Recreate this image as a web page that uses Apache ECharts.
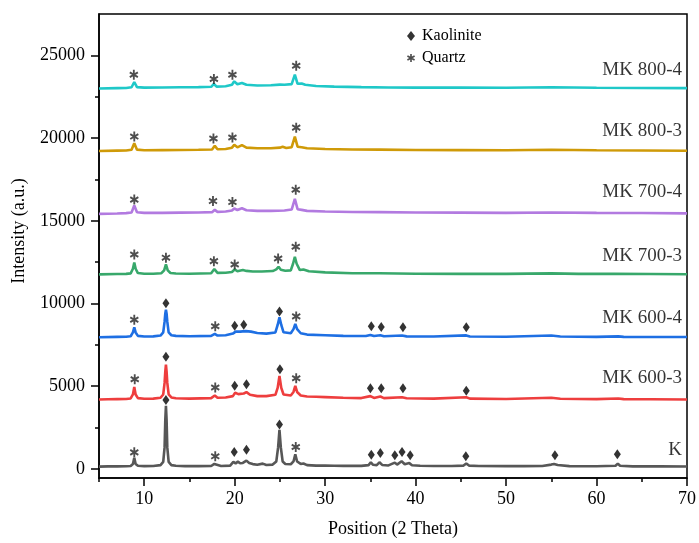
<!DOCTYPE html>
<html>
<head>
<meta charset="utf-8">
<script src="https://cdn.jsdelivr.net/npm/echarts@6/dist/echarts.min.js"></script>
<style>
  html, body { margin: 0; padding: 0; background: #fff; }
  #chart { width: 699px; height: 543px; }
</style>
</head>
<body>
<div id="chart"></div>
<script>
// XRD patterns: raw kaolin (K) and metakaolins calcined at 600/700/800 °C.
// Each pattern is a list of [2θ, intensity] points, already stacked vertically.

const patternK = [
  [5,140],[6,150],[7,150],[8,160],[8.5,180],[8.75,300],[8.9,680],[9.05,300],[9.3,190],[10,170],
  [11,175],[11.8,230],[12.1,420],[12.25,1300],[12.33,3000],[12.4,3820],[12.47,3000],[12.55,1300],
  [12.7,420],[13.0,230],[13.5,190],[14.5,170],[16,165],[17.4,175],[17.75,300],[17.9,200],[18.5,175],
  [19.5,200],[19.85,420],[20.1,330],[20.35,440],[20.6,340],[20.9,360],[21.3,500],[21.6,360],[22,290],
  [22.5,250],[23.1,320],[23.5,240],[24.2,260],[24.6,450],[24.8,1300],[24.95,2360],[25.1,1300],
  [25.3,450],[25.6,300],[26.2,280],[26.5,450],[26.7,880],[26.9,450],[27.3,300],[27.6,330],[28,230],
  [29,200],[30,210],[31,190],[32,180],[33,190],[34,185],[34.8,230],[35.05,400],[35.3,250],[35.7,230],
  [36.0,400],[36.3,240],[37,210],[37.7,380],[37.95,260],[38.45,460],[38.8,280],[39.3,350],[39.6,220],
  [40.5,190],[42,175],[44,175],[45.3,200],[45.6,330],[45.9,200],[47,175],[50,170],[52,165],[54,175],
  [55.0,260],[55.3,300],[55.7,240],[57,170],[60,160],[62.1,190],[62.35,320],[62.6,190],[64,155],
  [67,150],[70,145]
];

const patternMK600_3 = [
  [5,4200],[6,4210],[7,4220],[8,4230],[8.5,4260],[8.75,4500],[8.9,4960],[9.05,4500],[9.3,4280],
  [10,4240],[11,4250],[11.8,4300],[12.1,4500],[12.25,5200],[12.33,5900],[12.4,6300],[12.47,5900],
  [12.55,5200],[12.7,4500],[13,4320],[13.5,4270],[15,4250],[17.4,4280],[17.8,4440],[18.1,4300],
  [19,4320],[19.8,4400],[20.05,4600],[20.4,4520],[21.0,4560],[21.3,4640],[21.7,4480],[22.5,4400],
  [23.5,4400],[24.5,4480],[24.75,4900],[24.95,5620],[25.15,4900],[25.4,4500],[26.2,4440],[26.5,4650],
  [26.7,5020],[26.9,4650],[27.3,4440],[28,4380],[29,4360],[30,4340],[32,4300],[34,4280],[35.0,4400],
  [35.4,4290],[36.1,4380],[36.5,4280],[38.5,4330],[39,4270],[42,4250],[45.6,4330],[46,4250],
  [50,4230],[55,4300],[56,4240],[60,4220],[62.4,4260],[63,4220],[66,4210],[70,4200]
];

const patternMK600_4 = [
  [5,7960],[7,7980],[8,7990],[8.5,8020],[8.75,8250],[8.9,8560],[9.05,8250],[9.3,8040],[10,8000],
  [11,8010],[11.8,8060],[12.1,8250],[12.25,8900],[12.33,9400],[12.4,9620],[12.47,9400],[12.55,8900],
  [12.7,8250],[13,8080],[13.5,8040],[15,8020],[17.4,8040],[17.8,8160],[18.1,8060],[19,8080],
  [19.8,8180],[20.1,8300],[20.6,8300],[21.2,8330],[21.8,8300],[22.5,8220],[23.5,8180],[24.5,8250],
  [24.75,8700],[24.95,9160],[25.15,8700],[25.4,8260],[26.2,8200],[26.5,8450],[26.7,8760],[26.9,8450],
  [27.3,8200],[28,8120],[30,8080],[32,8040],[34.5,8030],[35.0,8100],[35.4,8030],[36.1,8080],
  [36.5,8020],[38.5,8060],[39,8010],[42,8000],[45.6,8070],[46,8000],[50,7990],[55,8060],[56,8000],
  [60,7980],[62.4,8010],[63,7980],[70,7970]
];

const patternMK700_3 = [
  [5,11760],[7,11780],[8,11790],[8.5,11820],[8.75,12100],[8.9,12480],[9.05,12100],[9.3,11840],
  [10,11800],[11,11800],[11.9,11830],[12.2,12000],[12.4,12360],[12.6,12000],[12.9,11840],[13.5,11810],
  [15,11800],[17.4,11830],[17.75,12080],[18.1,11850],[19,11860],[19.7,11900],[20.0,12060],[20.3,11950],
  [20.9,12020],[21.3,11970],[22,11930],[23,11930],[24.2,11960],[24.6,12060],[24.85,12220],[25.1,12040],
  [25.6,11980],[26.2,12000],[26.45,12400],[26.65,12820],[26.85,12400],[27.2,12020],[27.6,12060],
  [28.2,11950],[30,11880],[33,11830],[36,11830],[40,11800],[45,11790],[50,11790],[55,11820],
  [58,11790],[62,11790],[66,11780],[70,11770]
];

const patternMK700_4 = [
  [5,15420],[7,15440],[8,15460],[8.6,15500],[8.9,15920],[9.2,15520],[10,15480],[12,15480],[14,15490],
  [16,15500],[17.5,15520],[17.8,15660],[18.1,15540],[19,15560],[19.7,15620],[19.95,15740],[20.3,15650],
  [20.8,15760],[21.3,15640],[22.5,15600],[24,15600],[25.5,15620],[26.3,15680],[26.65,16320],
  [26.95,15700],[27.4,15660],[28,15600],[30,15560],[33,15530],[36,15520],[40,15500],[45,15490],
  [50,15480],[55,15500],[60,15480],[65,15470],[70,15450]
];

const patternMK800_3 = [
  [5,19220],[7,19240],[8,19250],[8.6,19290],[8.9,19690],[9.2,19300],[10,19260],[12,19270],[14,19280],
  [16,19290],[17.5,19310],[17.8,19530],[18.1,19320],[19,19340],[19.7,19420],[19.95,19590],[20.3,19440],
  [20.8,19570],[21.3,19420],[22.5,19380],[24,19380],[25.0,19420],[25.3,19470],[25.7,19400],[26.3,19450],
  [26.65,20090],[26.95,19480],[27.4,19440],[28,19380],[30,19340],[33,19310],[36,19300],[40,19280],
  [45,19270],[50,19260],[55,19290],[60,19260],[65,19250],[70,19230]
];

const patternMK800_4 = [
  [5,23000],[7,23020],[8,23030],[8.6,23070],[8.9,23390],[9.2,23080],[10,23050],[12,23060],[14,23070],
  [16,23080],[17.4,23100],[17.7,23270],[18.0,23110],[19,23130],[19.7,23220],[19.95,23430],[20.3,23250],
  [20.8,23330],[21.3,23220],[22.5,23180],[24,23190],[25.0,23230],[25.2,23300],[25.5,23220],[26.3,23260],
  [26.65,23830],[26.95,23280],[27.4,23300],[27.8,23220],[29,23150],[31,23110],[34,23080],[37,23060],
  [40,23050],[45,23050],[50,23040],[55,23070],[60,23040],[65,23030],[70,23020]
];

const sampleNames = ['K', 'MK 600-3', 'MK 600-4', 'MK 700-3', 'MK 700-4', 'MK 800-3', 'MK 800-4'];
const samplePatterns = [patternK, patternMK600_3, patternMK600_4, patternMK700_3,
                        patternMK700_4, patternMK800_3, patternMK800_4];
// intensity level at which each sample name is written, at the right edge
const sampleNameLevels = [1140, 5520, 9120, 12850, 16750, 20410, 24130];

// Phase identification marks [2θ, intensity]
const kaoliniteMarks = [
  [12.4,4160],[19.95,1020],[21.3,1160],[24.95,2680],[35.1,860],[36.1,960],[37.7,820],[38.5,1020],
  [39.4,820],[45.55,760],[55.4,820],[62.3,880],
  [12.4,6780],[20.0,5020],[21.3,5120],[25.0,6020],[35.0,4880],[36.2,4880],[38.6,4880],[45.6,4720],
  [12.4,10020],[20.0,8660],[21.0,8720],[24.95,9520],[35.1,8620],[36.2,8580],[38.6,8560],[45.6,8560]
];
const quartzMarks = [
  [8.9,1000],[17.85,760],[26.75,1320],
  [8.95,5420],[17.85,4920],[26.8,5480],
  [8.9,9020],[17.85,8620],[26.8,9220],
  [8.9,12960],[12.4,12770],[17.7,12560],[20.0,12360],[24.8,12720],[26.75,13430],
  [8.9,16280],[17.6,16190],[19.75,16130],[26.75,16880],
  [8.9,20090],[17.65,19970],[19.75,20030],[26.8,20630],
  [8.85,23830],[17.7,23570],[19.75,23830],[26.8,24370]
];

const xTickValues = [10, 20, 30, 40, 50, 60, 70];
const xMinorTickValues = [5, 15, 25, 35, 45, 55, 65];
const yTickValues = [0, 5000, 10000, 15000, 20000, 25000];
const yMinorTickValues = [2500, 7500, 12500, 17500, 22500];

const palette = ['#575757', '#ee3e3e', '#1e6fe3', '#38a86b', '#b27ae0', '#cf9a08', '#1fc8c8'];
const serif = "'Liberation Serif', 'Times New Roman', serif";

// six-armed asterisk glyph for quartz reflections
const asteriskPath = 'path://M40 0L60 0L60 100L40 100Z' +
  'M1.2 34.5L11.2 17.2L98.8 65.5L88.8 82.8Z' +
  'M88.8 17.2L98.8 34.5L11.2 82.8L1.2 65.5Z';

const axisStroke = { color: '#000', width: 1.5 };

const chart = echarts.init(document.getElementById('chart'), null, { renderer: 'canvas' });

const series = samplePatterns.map((pts, i) => ({
  name: sampleNames[i],
  type: 'line',
  data: pts,
  showSymbol: false,
  symbol: 'none',
  lineStyle: { color: palette[i], width: 2.6 },
  z: 2
}));

series.push({
  name: 'Kaolinite',
  type: 'scatter',
  data: kaoliniteMarks,
  symbol: 'diamond',
  symbolSize: [7, 10],
  itemStyle: { color: '#000' },
  z: 4
});
series.push({
  name: 'Quartz',
  type: 'scatter',
  data: quartzMarks,
  symbol: asteriskPath,
  symbolSize: [9, 10],
  itemStyle: { color: '#222' },
  z: 4
});
series.push({
  name: 'sampleNames',
  type: 'scatter',
  data: sampleNames.map((n, i) => ({ name: n, value: [70, sampleNameLevels[i]] })),
  symbolSize: 0,
  label: {
    show: true,
    position: 'left',
    distance: 5,
    formatter: '{b}',
    color: '#000',
    fontFamily: serif,
    fontSize: 19
  },
  z: 5
});

chart.setOption({
  animation: false,
  backgroundColor: '#fff',
  grid: {
    left: 99, right: 10, top: 14, bottom: 62,
    show: true, borderColor: '#000', borderWidth: 1.5,
    containLabel: false
  },
  legend: {
    data: ['Kaolinite', 'Quartz'],
    orient: 'vertical',
    left: 402,
    top: 23,
    itemWidth: 8,
    itemHeight: 10,
    itemGap: 6,
    selectedMode: false,
    textStyle: { fontFamily: serif, fontSize: 16, color: '#000', padding: [0, 0, 0, 2] }
  },
  xAxis: [{
    type: 'value', min: 5, max: 70,
    axisLine: { onZero: false, lineStyle: axisStroke },
    axisTick: { customValues: xTickValues, length: 8, lineStyle: axisStroke },
    axisLabel: { customValues: xTickValues, margin: 12, color: '#000', fontFamily: serif, fontSize: 18 },
    splitLine: { show: false },
    name: 'Position (2 Theta)',
    nameLocation: 'middle',
    nameGap: 42,
    nameTextStyle: { fontFamily: serif, fontSize: 18, color: '#000' }
  }, {
    type: 'value', min: 5, max: 70, position: 'bottom',
    axisLine: { show: false, onZero: false },
    axisTick: { customValues: xMinorTickValues, length: 4, lineStyle: axisStroke },
    axisLabel: { show: false },
    splitLine: { show: false }
  }],
  yAxis: [{
    type: 'value', min: -550, max: 27500,
    axisLine: { onZero: false, lineStyle: axisStroke },
    axisTick: { customValues: yTickValues, length: 8, lineStyle: axisStroke },
    axisLabel: {
      customValues: yTickValues, margin: 14, color: '#000', fontFamily: serif, fontSize: 18,
      formatter: (v) => String(v)
    },
    splitLine: { show: false }
  }, {
    type: 'value', min: -550, max: 27500, position: 'left',
    axisLine: { show: false, onZero: false },
    axisTick: { customValues: yMinorTickValues, length: 4, lineStyle: axisStroke },
    axisLabel: { show: false },
    splitLine: { show: false }
  }],
  graphic: [{
    type: 'text',
    x: 19, y: 231,
    rotation: Math.PI / 2,
    style: {
      text: 'Intensity (a.u.)',
      fontFamily: serif, fontSize: 18, fill: '#000',
      align: 'center', verticalAlign: 'middle'
    }
  }],
  series: series
});
</script>
</body>
</html>
